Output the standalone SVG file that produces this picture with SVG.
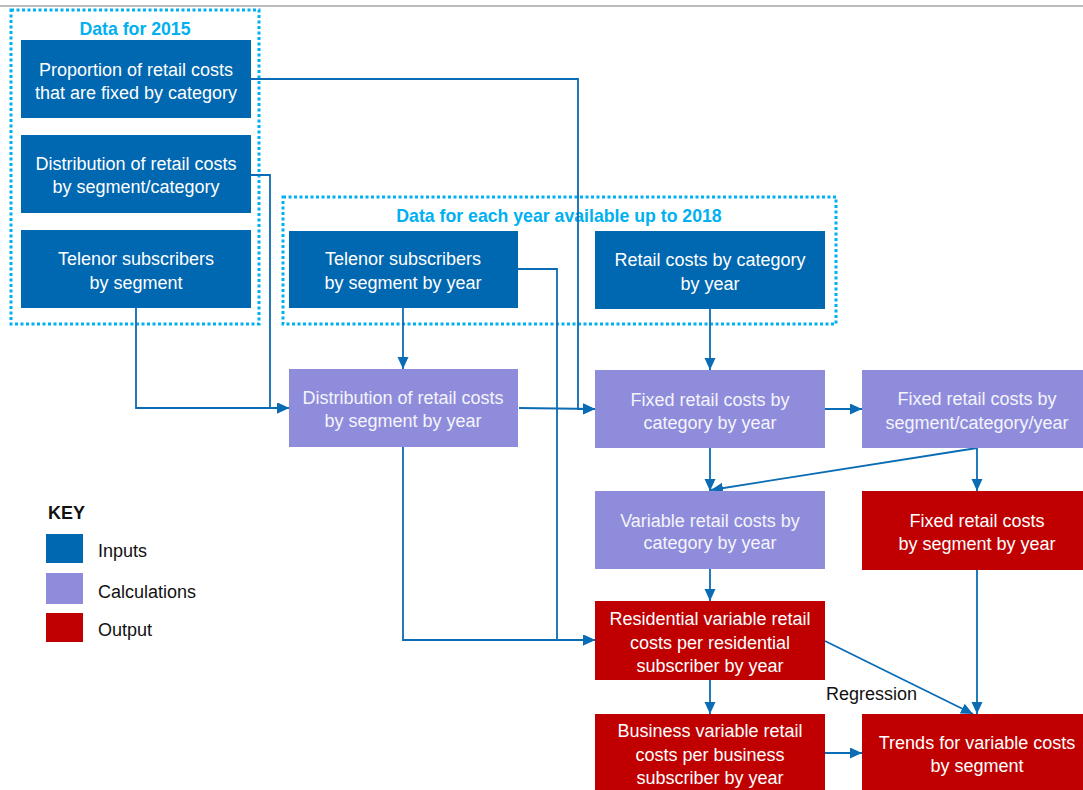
<svg xmlns="http://www.w3.org/2000/svg" width="1083" height="790" viewBox="0 0 1083 790">
<defs>
<marker id="ah" markerUnits="userSpaceOnUse" markerWidth="14" markerHeight="12" refX="12" refY="5.5" orient="auto">
<path d="M0,0 L12,5.5 L0,11 Z" fill="#0a6cb4"/>
</marker>
<style>
.inp{fill:#0067b1}
.calc{fill:#8f8cdc}
.out{fill:#c00000}
.t{font-family:"Liberation Sans",Arial,sans-serif;font-size:18px;fill:#ffffff;text-anchor:middle}
.tc{fill:#f4f4fb}
.lbl{font-family:"Liberation Sans",Arial,sans-serif;font-size:17.7px;font-weight:bold;fill:#00b0f0;text-anchor:middle}
.key{font-family:"Liberation Sans",Arial,sans-serif;font-size:18px;fill:#111111}
.dot{fill:none;stroke:#00b0f0;stroke-width:3;stroke-dasharray:3 2.5}
.c{fill:none;stroke:#0a6cb4;stroke-width:1.8;marker-end:url(#ah)}
</style>
</defs>
<rect width="1083" height="790" fill="#ffffff"/>
<line x1="0" y1="6" x2="1083" y2="6" stroke="#a6a6a6" stroke-width="1.5"/>

<g id="group-2015">
<rect class="dot" x="11" y="10" width="248" height="314"/>
<text class="lbl" x="135" y="35">Data for 2015</text>
</g>
<g id="group-years">
<rect class="dot" x="283" y="197" width="553" height="127"/>
<text class="lbl" x="559" y="222">Data for each year available up to 2018</text>
</g>

<g id="connectors">
<polyline class="c" points="251,79 578,79 578,409 595,409"/>
<polyline class="c" points="251,175 270,175 270,408 289,408"/>
<polyline class="c" points="136,308 136,408 289,408"/>
<polyline class="c" points="403,308 403,369"/>
<polyline class="c" points="518,269 557,269 557,640 595,640"/>
<polyline class="c" points="403,447 403,640 595,640"/>
<polyline class="c" points="519,408 595,409"/>
<polyline class="c" points="710,309 710,370"/>
<polyline class="c" points="825,409 862,409"/>
<polyline class="c" points="710,448 710,491"/>
<polyline class="c" points="977,448 711,490"/>
<polyline class="c" points="977,448 977,491"/>
<polyline class="c" points="710,569 710,601"/>
<polyline class="c" points="710,680 710,714"/>
<polyline class="c" points="825,641 973,714"/>
<polyline class="c" points="977,570 977,714"/>
<polyline class="c" points="825,753 862,753"/>
<text class="key" x="826" y="700" font-size="17.5">Regression</text>
</g>

<g id="n-proportion">
<rect class="inp" x="21" y="40" width="230" height="78"/>
<text class="t" x="136" y="76">Proportion of retail costs</text>
<text class="t" x="136" y="99">that are fixed by category</text>
</g>
<g id="n-distribution2015">
<rect class="inp" x="21" y="135" width="230" height="78"/>
<text class="t" x="136" y="170">Distribution of retail costs</text>
<text class="t" x="136" y="193">by segment/category</text>
</g>
<g id="n-telenor-seg">
<rect class="inp" x="21" y="230" width="230" height="78"/>
<text class="t" x="136" y="265">Telenor subscribers</text>
<text class="t" x="136" y="289">by segment</text>
</g>
<g id="n-telenor-year">
<rect class="inp" x="289" y="231" width="229" height="77"/>
<text class="t" x="403" y="265">Telenor subscribers</text>
<text class="t" x="403" y="289">by segment by year</text>
</g>
<g id="n-retail-cat">
<rect class="inp" x="595" y="231" width="230" height="78"/>
<text class="t" x="710" y="266">Retail costs by category</text>
<text class="t" x="710" y="290">by year</text>
</g>
<g id="n-dist-year">
<rect class="calc" x="289" y="369" width="229" height="78"/>
<text class="t tc" x="403" y="404">Distribution of retail costs</text>
<text class="t tc" x="403" y="427">by segment by year</text>
</g>
<g id="n-fixed-cat">
<rect class="calc" x="595" y="370" width="230" height="78"/>
<text class="t tc" x="710" y="406">Fixed retail costs by</text>
<text class="t tc" x="710" y="429">category by year</text>
</g>
<g id="n-fixed-segcat">
<rect class="calc" x="862" y="370" width="221" height="78"/>
<text class="t tc" x="977" y="405">Fixed retail costs by</text>
<text class="t tc" x="977" y="429">segment/category/year</text>
</g>
<g id="n-variable-cat">
<rect class="calc" x="595" y="491" width="230" height="78"/>
<text class="t tc" x="710" y="527">Variable retail costs by</text>
<text class="t tc" x="710" y="549">category by year</text>
</g>
<g id="n-fixed-seg">
<rect class="out" x="862" y="491" width="221" height="79"/>
<text class="t" x="977" y="527">Fixed retail costs</text>
<text class="t" x="977" y="550">by segment by year</text>
</g>
<g id="n-residential">
<rect class="out" x="595" y="601" width="230" height="79"/>
<text class="t" x="710" y="625">Residential variable retail</text>
<text class="t" x="710" y="649">costs per residential</text>
<text class="t" x="710" y="672">subscriber by year</text>
</g>
<g id="n-business">
<rect class="out" x="595" y="714" width="230" height="76"/>
<text class="t" x="710" y="737">Business variable retail</text>
<text class="t" x="710" y="761">costs per business</text>
<text class="t" x="710" y="784">subscriber by year</text>
</g>
<g id="n-trends">
<rect class="out" x="862" y="714" width="221" height="76"/>
<text class="t" x="977" y="749">Trends for variable costs</text>
<text class="t" x="977" y="772">by segment</text>
</g>

<g id="key">
<text class="key" x="48" y="519" font-weight="bold">KEY</text>
<rect class="inp" x="46" y="534" width="37" height="29"/>
<text class="key" x="98" y="557">Inputs</text>
<rect class="calc" x="46" y="573" width="37" height="31"/>
<text class="key" x="98" y="598">Calculations</text>
<rect class="out" x="46" y="613" width="37" height="29"/>
<text class="key" x="98" y="636">Output</text>
</g>
</svg>
